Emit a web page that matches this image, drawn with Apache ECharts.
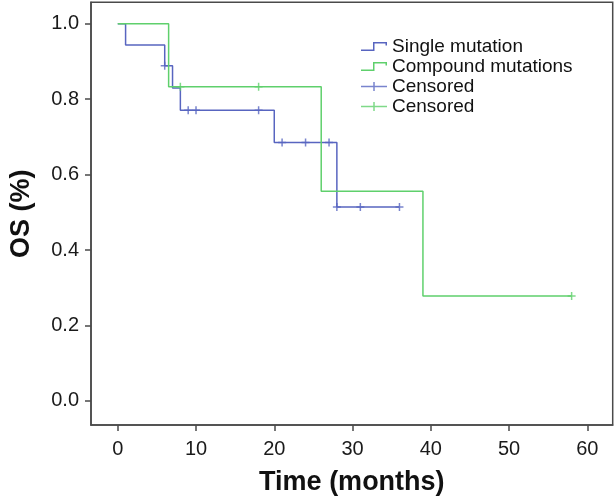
<!DOCTYPE html>
<html>
<head>
<meta charset="utf-8">
<script src="https://cdn.jsdelivr.net/npm/echarts@6/dist/echarts.min.js"></script>
<style>
html,body{margin:0;padding:0;background:#fff;}
#chart{width:616px;height:501px;}
</style>
</head>
<body>
<div id="chart"></div>
<script>
// ---- data ----
var singleTimes    = [0, 1, 6, 7, 8, 20, 28, 36];
var singleSurv     = [1.0, 0.944, 0.889, 0.830, 0.771, 0.685, 0.514, 0.514];
var singleCensT    = [6, 9, 10, 18, 21, 24, 27, 28, 31, 36];
var singleCensS    = [0.889, 0.771, 0.771, 0.771, 0.685, 0.685, 0.685, 0.514, 0.514, 0.514];

var compTimes      = [0, 6.5, 26, 39, 58];
var compSurv       = [1.0, 0.833, 0.556, 0.278, 0.278];
var compCensT      = [8, 18, 58];
var compCensS      = [0.833, 0.833, 0.278];

var xTicks = [0, 10, 20, 30, 40, 50, 60];
var yTicks = [0.0, 0.2, 0.4, 0.6, 0.8, 1.0];

var seriesNames = ['Single mutation', 'Compound mutations', 'Censored', 'Censored '];

// ---- styling ----
var BLUE = '#5865c0';
var GREEN = '#5fd06c';
var AXIS = '#4a4a4a';
var FONT = '"Liberation Sans", Arial, Helvetica, sans-serif';

function zip(a, b) { return a.map(function (v, i) { return [v, b[i]]; }); }

var stepIcon = 'path://M0,7.5 L12,7.5 L12,0 L26,0 L26,3.5 L24.5,3.5 L24.5,1.5 L13.5,1.5 L13.5,9 L0,9 Z';
var plusIcon = 'path://M0,3.75 L12.25,3.75 L12.25,0 L13.75,0 L13.75,3.75 L26,3.75 L26,5.25 L13.75,5.25 L13.75,9 L12.25,9 L12.25,5.25 L0,5.25 Z';
var plusMark = 'path://M0,3.25 L3.25,3.25 L3.25,0 L4.75,0 L4.75,3.25 L8,3.25 L8,4.75 L4.75,4.75 L4.75,8 L3.25,8 L3.25,4.75 L0,4.75 Z';

var chart = echarts.init(document.getElementById('chart'), null, {renderer: 'canvas'});
chart.setOption({
  animation: false,
  backgroundColor: '#fff',
  textStyle: {fontFamily: FONT},
  grid: {
    left: 86, right: 3.3, top: 2.3, bottom: 71.7,
    show: true, borderColor: AXIS, borderWidth: 1.5, backgroundColor: 'transparent',
    containLabel: false
  },
  legend: {
    orient: 'vertical',
    left: 356, top: 31.5,
    itemWidth: 26, itemHeight: 9, itemGap: 0, itemTextGap: 9,
    symbolKeepAspect: false,
    selectedMode: false,
    formatter: function (n) { return n.trim(); },
    textStyle: {fontSize: 19, lineHeight: 20, color: '#111', fontFamily: FONT},
    data: [
      {name: seriesNames[0], icon: stepIcon, itemStyle: {color: BLUE}},
      {name: seriesNames[1], icon: stepIcon, itemStyle: {color: GREEN}},
      {name: seriesNames[2], icon: plusIcon, itemStyle: {color: BLUE}},
      {name: seriesNames[3], icon: plusIcon, itemStyle: {color: GREEN}}
    ]
  },
  xAxis: {
    type: 'value', min: -3.42, max: 63.25,
    name: 'Time (months)', nameLocation: 'middle', nameGap: 44,
    nameTextStyle: {fontSize: 27, fontWeight: 'bold', color: '#111', fontFamily: FONT},
    axisLine: {show: true, onZero: false, lineStyle: {color: AXIS, width: 1.5}},
    axisTick: {show: true, length: 6, lineStyle: {color: AXIS, width: 1.5}, customValues: xTicks},
    axisLabel: {fontSize: 20, color: '#1a1a1a', margin: 14, customValues: xTicks,
      formatter: function (v) { return String(Math.round(v)); }},
    splitLine: {show: false}
  },
  yAxis: {
    type: 'value', min: -0.0638, max: 1.057,
    name: 'OS (%)', nameLocation: 'middle', nameGap: 56,
    nameTextStyle: {fontSize: 27, fontWeight: 'bold', color: '#111', fontFamily: FONT},
    axisLine: {show: true, onZero: false, lineStyle: {color: AXIS, width: 1.5}},
    axisTick: {show: true, length: 6, lineStyle: {color: AXIS, width: 1.5}, customValues: yTicks},
    axisLabel: {fontSize: 20, color: '#1a1a1a', margin: 12, customValues: yTicks,
      formatter: function (v) { return v.toFixed(1); }},
    splitLine: {show: false}
  },
  series: [
    {
      name: seriesNames[0], type: 'line', step: 'end', showSymbol: false, symbol: 'none',
      data: zip(singleTimes, singleSurv), z: 2,
      lineStyle: {color: BLUE, width: 1.5}, itemStyle: {color: BLUE}
    },
    {
      name: seriesNames[2], type: 'scatter', symbol: plusMark, symbolSize: [8, 8],
      data: zip(singleCensT, singleCensS), z: 3,
      itemStyle: {color: BLUE}
    },
    {
      name: seriesNames[1], type: 'line', step: 'end', showSymbol: false, symbol: 'none',
      data: zip(compTimes, compSurv), z: 4,
      lineStyle: {color: GREEN, width: 1.5}, itemStyle: {color: GREEN}
    },
    {
      name: seriesNames[3], type: 'scatter', symbol: plusMark, symbolSize: [8, 8],
      data: zip(compCensT, compCensS), z: 5,
      itemStyle: {color: GREEN}
    }
  ]
});
</script>
</body>
</html>
